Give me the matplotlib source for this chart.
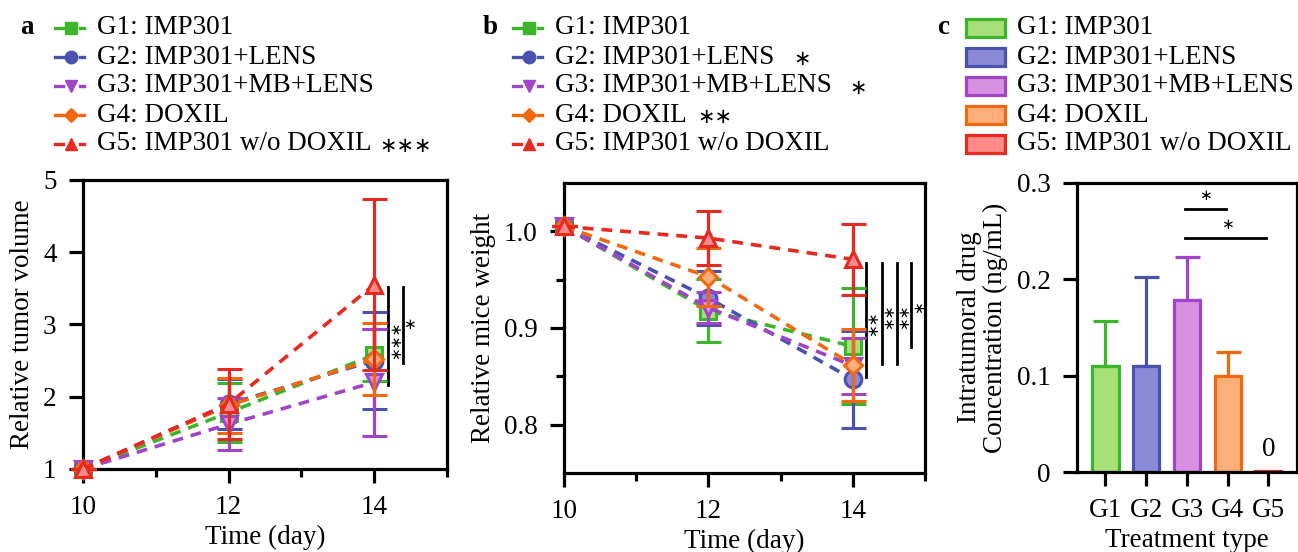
import matplotlib
matplotlib.use('Agg')
import matplotlib.pyplot as plt
from matplotlib.lines import Line2D
from matplotlib.patches import Rectangle
import numpy as np

plt.rcParams['font.family'] = ['Liberation Serif', 'DejaVu Serif']
plt.rcParams['font.size'] = 19.5

# ---- data ----
days = [10, 12, 14]
groups = ['G1: IMP301', 'G2: IMP301+LENS', 'G3: IMP301+MB+LENS', 'G4: DOXIL', 'G5: IMP301 w/o DOXIL']
short = ['G1', 'G2', 'G3', 'G4', 'G5']
line_cols = ['#3cb52a', '#4a52b0', '#a045c8', '#f2680f', '#e62a22']
fill_cols = ['#a8e07a', '#8a8ad6', '#d890e0', '#ffb07a', '#ff8a8a']
markers = ['s', 'o', 'v', 'D', '^']

tumor_mean = [[1, 1.78, 2.58], [1, 1.90, 2.50], [1, 1.62, 2.20], [1, 1.88, 2.52], [1, 1.90, 3.55]]
tumor_err = [[0, 0.41, 0.36], [0, 0.35, 0.67], [0, 0.36, 0.74], [0, 0.38, 0.50], [0, 0.48, 1.18]]

weight_mean = [[1.005, 0.918, 0.881], [1.005, 0.931, 0.847], [1.005, 0.921, 0.861], [1.005, 0.953, 0.862], [1.005, 0.993, 0.971]]
weight_err = [[0, 0.033, 0.060], [0, 0.028, 0.050], [0, 0.016, 0.029], [0, 0.030, 0.037], [0, 0.028, 0.037]]

conc_mean = [0.11, 0.11, 0.179, 0.10, 0.001]
conc_err = [0.047, 0.092, 0.044, 0.025, 0.0]

legend_stars_a = ['', '', '', '', '∗∗∗']
legend_stars_b = ['', '∗', '∗', '∗∗', '']

W, H = 1298, 552
fig = plt.figure(figsize=(W / 100, H / 100), dpi=100)
STAR = ['DejaVu Sans']

def fx(px):
  return px / W

def fy(py):
  return 1 - py / H

def style_axes(ax):
  for s in ax.spines.values():
    s.set_linewidth(2.3)
  ax.tick_params(which='major', direction='out', length=10, width=2.3, pad=9)
  ax.tick_params(which='minor', direction='out', length=6, width=2.3)

def line_panel(ax, means, errs):
  for i in range(5):
    ax.errorbar(days, means[i], yerr=errs[i], color=line_cols[i], ls=(0, (3, 2.2)), lw=2.6,
                marker=markers[i], ms=12 if markers[i] != 'D' else 9.5, mfc=fill_cols[i], mec=line_cols[i], mew=2.2,
                elinewidth=2.3, capsize=9, capthick=2.3, zorder=3 + i, clip_on=False)
  ax.set_xlim(10, 15)
  ax.set_xticks([10, 12, 14])
  ax.set_xticks([11, 13, 15], minor=True)
  ax.set_xlabel('Time (day)', labelpad=3)
  style_axes(ax)

# ---- panel a ----
axa = fig.add_axes([0.0639, 0.1504, 0.2805, 0.5236])
line_panel(axa, tumor_mean, tumor_err)
axa.set_ylim(1, 5)
axa.set_yticks([1, 2, 3, 4, 5])
axa.set_ylabel('Relative tumor volume', labelpad=6)
axa.plot([14.19, 14.19], [2.16, 3.52], color='black', lw=2)
axa.plot([14.40, 14.40], [2.47, 3.52], color='black', lw=2)
axa.text(14.29, 2.78, '∗∗∗', rotation=90, ha='center', va='center', fontsize=11, family=STAR)
axa.text(14.49, 3.0, '∗', ha='center', va='center', fontsize=11, family=STAR)

# ---- panel b ----
axb = fig.add_axes([0.4345, 0.1431, 0.2781, 0.5254])
line_panel(axb, weight_mean, weight_err)
axb.set_ylim(0.75, 1.05)
axb.set_yticks([0.8, 0.9, 1.0])
axb.set_yticks([0.85, 0.95], minor=True)
axb.yaxis.set_major_formatter(matplotlib.ticker.FormatStrFormatter('%.1f'))
axb.set_ylabel('Relative mice weight', labelpad=6)
sig_x = [14.18, 14.40, 14.61, 14.81]
sig_bot = [0.849, 0.863, 0.863, 0.880]
sig_txt = ['∗∗', '∗∗', '∗∗', '∗']
sig_ty = [0.905, 0.912, 0.912, 0.922]
for x, b, t, ty in zip(sig_x, sig_bot, sig_txt, sig_ty):
  axb.plot([x, x], [b, 0.967], color='black', lw=2)
  axb.text(x + 0.1, ty, t, rotation=90, ha='center', va='center', fontsize=11, family=STAR)

# ---- panel c ----
axc = fig.add_axes([0.8297, 0.1449, 0.1695, 0.5236])
xs = np.arange(5)
axc.bar(xs, conc_mean, width=0.64, color=fill_cols, edgecolor=line_cols, linewidth=2.3, zorder=2)
for i in range(5):
  if conc_err[i] > 0:
    axc.errorbar(xs[i], conc_mean[i], yerr=[[0], [conc_err[i]]], color=line_cols[i],
                 elinewidth=2.3, capsize=9, capthick=2.3, zorder=1)
axc.set_xlim(-0.7, 4.7)
axc.set_ylim(0, 0.3)
axc.set_yticks([0, 0.1, 0.2, 0.3])
axc.set_yticklabels(['0', '0.1', '0.2', '0.3'])
axc.set_xticks(xs)
axc.set_xticklabels(short)
axc.set_xlabel('Treatment type', labelpad=3)
axc.set_ylabel('Intratumoral drug\nConcentration (ng/mL)', labelpad=6, linespacing=1.05)
axc.text(4, 0.01, '0', ha='center', va='bottom')
axc.plot([1.95, 2.95], [0.273, 0.273], color='black', lw=2)
axc.plot([1.95, 3.95], [0.243, 0.243], color='black', lw=2)
axc.text(2.45, 0.287, '∗', ha='center', va='center', fontsize=11, family=STAR)
axc.text(3.0, 0.257, '∗', ha='center', va='center', fontsize=11, family=STAR)
style_axes(axc)

# ---- legends, placed by hand ----
rows = [28, 57, 86, 115, 144]
for hx0, tx, stars, star_x in [(55, 97, legend_stars_a, [0, 0, 0, 0, 406]),
                               (513, 555, legend_stars_b, [0, 802, 858, 715, 0])]:
  for i, y in enumerate(rows):
    for a, b in [(hx0, hx0 + 8), (hx0 + 25, hx0 + 29)]:
      fig.add_artist(Line2D([fx(a), fx(b)], [fy(y), fy(y)], color=line_cols[i], lw=2.4,
                            transform=fig.transFigure))
    fig.add_artist(Line2D([fx(hx0 + 16)], [fy(y)], marker=markers[i], ms=9 if markers[i] != 'D' else 7,
                          color=line_cols[i], mfc=line_cols[i], mec=line_cols[i], transform=fig.transFigure))
    fig.text(fx(tx), fy(y), groups[i], ha='left', va='center', fontsize=19.5)
    if stars[i]:
      fig.text(fx(star_x[i]), fy(y + 2), stars[i], ha='center', va='center', fontsize=15, family=STAR)

for i, y in enumerate(rows):
  fig.add_artist(Rectangle((fx(966), fy(y + 9)), fx(39), 18 / H, facecolor=fill_cols[i],
                           edgecolor=line_cols[i], lw=2.3, transform=fig.transFigure))
  fig.text(fx(1017), fy(y), groups[i], ha='left', va='center', fontsize=19.5)

# panel letters
for x, s in [(20, 'a'), (483, 'b'), (937, 'c')]:
  fig.text(fx(x), fy(28), s, fontsize=19.5, fontweight='bold', va='center')

fig.savefig('out.png', dpi=100)
